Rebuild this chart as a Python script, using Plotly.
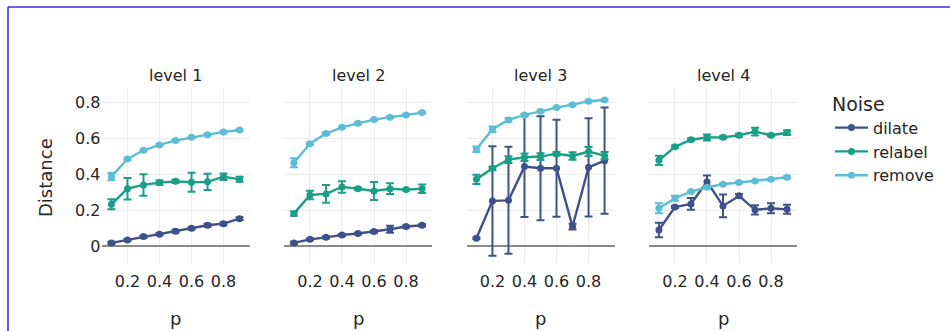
import plotly.graph_objects as go

# ---- data -------------------------------------------------------------
p = [0.1, 0.2, 0.3, 0.4, 0.5, 0.6, 0.7, 0.8, 0.9]
levels = ["level 1", "level 2", "level 3", "level 4"]
noise_types = ["dilate", "relabel", "remove"]

dilate_mean = [
    [0.017, 0.033, 0.052, 0.065, 0.082, 0.098, 0.115, 0.124, 0.152],
    [0.017, 0.037, 0.048, 0.061, 0.069, 0.080, 0.093, 0.108, 0.115],
    [0.043, 0.251, 0.254, 0.442, 0.433, 0.433, 0.108, 0.438, 0.475],
    [0.089, 0.217, 0.234, 0.358, 0.223, 0.279, 0.201, 0.210, 0.204],
]
dilate_err = [
    [0.006, 0.006, 0.006, 0.006, 0.008, 0.006, 0.008, 0.008, 0.008],
    [0.006, 0.005, 0.006, 0.006, 0.005, 0.006, 0.020, 0.006, 0.006],
    [0.004, 0.305, 0.298, 0.281, 0.290, 0.270, 0.016, 0.274, 0.296],
    [0.040, 0.006, 0.033, 0.035, 0.063, 0.010, 0.026, 0.028, 0.025],
]
relabel_mean = [
    [0.232, 0.319, 0.340, 0.353, 0.360, 0.355, 0.357, 0.386, 0.371],
    [0.180, 0.284, 0.290, 0.329, 0.319, 0.306, 0.319, 0.314, 0.319],
    [0.371, 0.433, 0.481, 0.494, 0.498, 0.514, 0.501, 0.526, 0.503],
    [0.477, 0.552, 0.592, 0.604, 0.605, 0.617, 0.637, 0.617, 0.631],
]
relabel_err = [
    [0.028, 0.060, 0.060, 0.012, 0.009, 0.053, 0.045, 0.018, 0.014],
    [0.012, 0.024, 0.050, 0.032, 0.006, 0.050, 0.030, 0.005, 0.024],
    [0.026, 0.008, 0.019, 0.021, 0.019, 0.010, 0.021, 0.025, 0.020],
    [0.026, 0.006, 0.006, 0.017, 0.006, 0.008, 0.022, 0.006, 0.013],
]
remove_mean = [
    [0.386, 0.485, 0.533, 0.563, 0.587, 0.605, 0.620, 0.635, 0.646],
    [0.464, 0.570, 0.626, 0.661, 0.683, 0.704, 0.717, 0.730, 0.743],
    [0.539, 0.650, 0.702, 0.730, 0.750, 0.771, 0.787, 0.806, 0.813],
    [0.210, 0.266, 0.303, 0.327, 0.344, 0.353, 0.362, 0.371, 0.383],
]
remove_err = [
    [0.020, 0.006, 0.005, 0.005, 0.005, 0.004, 0.004, 0.004, 0.004],
    [0.025, 0.007, 0.006, 0.005, 0.005, 0.004, 0.004, 0.004, 0.005],
    [0.015, 0.015, 0.010, 0.005, 0.005, 0.004, 0.004, 0.005, 0.004],
    [0.028, 0.014, 0.005, 0.005, 0.005, 0.004, 0.004, 0.004, 0.005],
]

x_ticks = [0.2, 0.4, 0.6, 0.8]
x_tick_labels = ["0.2", "0.4", "0.6", "0.8"]
y_ticks = [0, 0.2, 0.4, 0.6, 0.8]
y_tick_labels = ["0", "0.2", "0.4", "0.6", "0.8"]

# ---- styling ----------------------------------------------------------
W, H = 950, 331
FONT = "DejaVu Sans"
TEXT = "#262626"
colors = {"dilate": "#3d528a", "relabel": "#1a9e87", "remove": "#5bbdd6"}
series = {
    "dilate": (dilate_mean, dilate_err),
    "relabel": (relabel_mean, relabel_err),
    "remove": (remove_mean, remove_err),
}

# panel placement in pixels
panel_left = [101.5, 284.0, 466.5, 649.0]
panel_w = 148.0
plot_top, plot_bottom = 88.0, 263.0


def px_x(v):
    return v / W


def px_y(v):
    return 1 - v / H


fig = go.Figure()

for i in range(4):
    xa = "x" if i == 0 else f"x{i + 1}"
    ya = "y" if i == 0 else f"y{i + 1}"
    for name in noise_types:
        means, errs = series[name]
        fig.add_trace(go.Scatter(
            x=p, y=means[i],
            error_y=dict(type="data", array=errs[i], visible=True,
                         color=colors[name], thickness=2, width=4),
            mode="lines+markers",
            line=dict(color=colors[name], width=2.4),
            marker=dict(color=colors[name], size=7),
            name=name, legendgroup=name, showlegend=(i == 0),
            xaxis=xa, yaxis=ya,
        ))

layout = dict(
    width=W, height=H,
    margin=dict(l=0, r=0, t=0, b=0),
    paper_bgcolor="white", plot_bgcolor="white",
    font=dict(family=FONT, size=16, color=TEXT),
    legend=dict(
        title=dict(text="Noise", font=dict(size=19, color=TEXT)),
        x=px_x(830), y=px_y(86), xanchor="left", yanchor="top",
        font=dict(size=16), tracegroupgap=0, itemwidth=33,
        bgcolor="rgba(0,0,0,0)",
    ),
    showlegend=True,
)

annotations = []
for i in range(4):
    xkey = "xaxis" if i == 0 else f"xaxis{i + 1}"
    ykey = "yaxis" if i == 0 else f"yaxis{i + 1}"
    x0 = panel_left[i]
    layout[xkey] = dict(
        domain=[px_x(x0), px_x(x0 + panel_w)],
        range=[0.038, 0.962],
        tickvals=x_ticks, ticktext=x_tick_labels,
        showgrid=True, gridcolor="#ececec", gridwidth=1,
        zeroline=False, showline=False, ticks="",
        ticklabelstandoff=7,
        anchor="y" if i == 0 else f"y{i + 1}",
        tickfont=dict(size=16),
    )
    layout[ykey] = dict(
        domain=[px_y(plot_bottom), px_y(plot_top)],
        range=[-0.095, 0.88],
        tickvals=y_ticks, ticktext=y_tick_labels,
        showticklabels=(i == 0),
        showgrid=True, gridcolor="#ececec", gridwidth=1,
        zeroline=True, zerolinecolor="#8a8a8a", zerolinewidth=1.6,
        showline=False, ticks="",
        anchor="x" if i == 0 else f"x{i + 1}",
        tickfont=dict(size=16),
    )
    cx = px_x(x0 + panel_w / 2)
    annotations.append(dict(text=levels[i], x=cx, y=px_y(76), xref="paper", yref="paper",
                            showarrow=False, xanchor="center", yanchor="middle",
                            font=dict(size=16)))
    annotations.append(dict(text="p", x=cx, y=px_y(318), xref="paper", yref="paper",
                            showarrow=False, xanchor="center", yanchor="middle",
                            font=dict(size=18)))

annotations.append(dict(text="Distance", x=px_x(45), y=px_y(178), xref="paper", yref="paper",
                        showarrow=False, textangle=-90, xanchor="center", yanchor="middle",
                        font=dict(size=18)))
layout["annotations"] = annotations

# frame lines along the top and left edges
layout["shapes"] = [
    dict(type="line", xref="paper", yref="paper", x0=px_x(8), x1=1.0,
         y0=px_y(7), y1=px_y(7), line=dict(color="#2f2fd8", width=1.5)),
    dict(type="line", xref="paper", yref="paper", x0=px_x(8), x1=px_x(8),
         y0=px_y(7), y1=0.0, line=dict(color="#2f2fd8", width=1.5)),
]

fig.update_layout(**layout)
fig.write_html("out.html")
